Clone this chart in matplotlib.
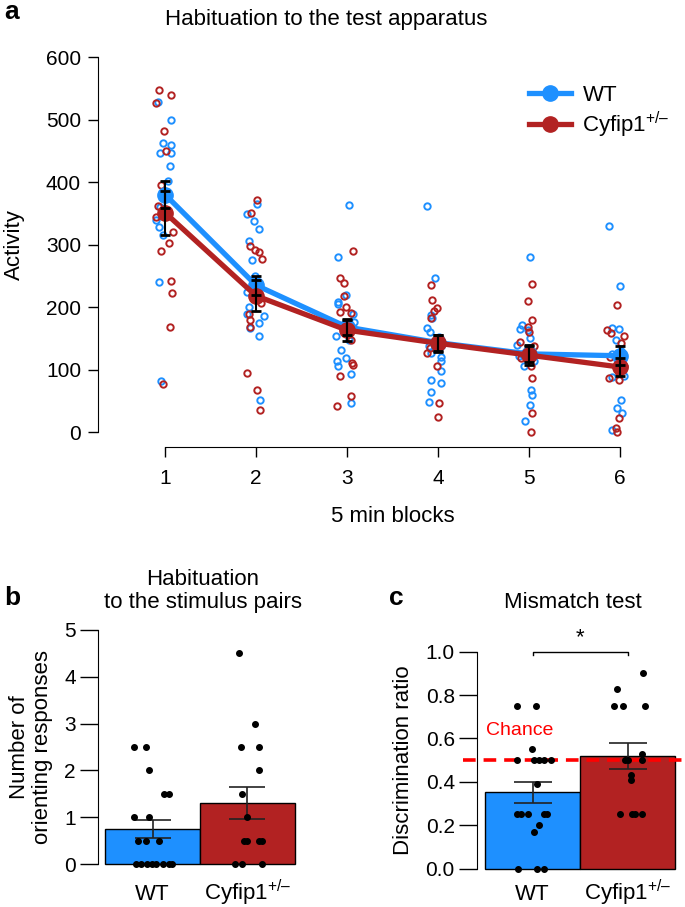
import matplotlib
matplotlib.use("Agg")
import matplotlib.pyplot as plt
import matplotlib.transforms as mtransforms
from matplotlib.lines import Line2D
import numpy as np

plt.rcParams['font.family'] = ['Liberation Sans', 'DejaVu Sans']
plt.rcParams['mathtext.fontset'] = 'custom'
plt.rcParams['mathtext.rm'] = 'Liberation Sans'
plt.rcParams['mathtext.it'] = 'Liberation Sans:italic'
plt.rcParams['mathtext.bf'] = 'Liberation Sans:bold'

BLUE = '#1E90FF'
RED = '#B22222'
W, H = 685, 907

""" Panel a: activity in 5 min blocks """
blocks = [1, 2, 3, 4, 5, 6]
wt_mean = [380, 235, 168, 143, 125, 122]
wt_se = [21, 15, 13, 13, 13, 15]
het_mean = [351, 218, 163, 142, 123, 104]
het_se = [35, 25, 17, 14, 16, 14]

wt_points = [
  [528, 499, 463, 460, 447, 446, 425, 402, 385, 360, 339, 328, 315, 240, 82],
  [365, 349, 338, 325, 305, 275, 250, 243, 224, 200, 189, 186, 174, 167, 154, 52],
  [364, 280, 219, 208, 205, 189, 176, 154, 147, 131, 118, 114, 105, 93, 47],
  [361, 247, 188, 182, 167, 160, 152, 137, 127, 120, 114, 98, 83, 79, 64, 48],
  [280, 171, 165, 163, 150, 139, 135, 125, 122, 121, 113, 105, 68, 59, 43, 18],
  [330, 234, 167, 165, 148, 130, 125, 120, 115, 90, 88, 52, 39, 30, 3],
]
het_points = [
  [547, 539, 527, 482, 450, 395, 362, 344, 320, 303, 290, 242, 223, 168, 77],
  [372, 351, 297, 292, 288, 277, 206, 189, 179, 168, 95, 67, 35],
  [289, 246, 238, 217, 200, 192, 190, 147, 110, 107, 89, 57, 42],
  [236, 211, 198, 193, 182, 150, 141, 135, 127, 105, 46, 24],
  [237, 210, 180, 168, 160, 144, 138, 125, 119, 105, 86, 30, 0],
  [204, 163, 159, 154, 142, 120, 106, 95, 86, 84, 22, 7, 0],
]
# horizontal jitter of each point (block units)
wt_jitter = [
  [-0.08, 0.07, -0.02, 0.07, 0.07, -0.05, 0.05, 0.03, -0.01, -0.05, -0.10, -0.07, -0.02, -0.07, -0.04],
  [0.01, -0.10, -0.02, 0.03, -0.08, -0.04, -0.01, -0.02, -0.10, -0.08, -0.10, 0.09, 0.03, -0.07, 0.03, 0.05],
  [0.02, -0.10, -0.01, -0.10, -0.10, 0.07, 0.08, -0.12, 0.02, -0.07, -0.01, -0.11, -0.10, 0.04, 0.04],
  [-0.12, -0.03, -0.07, -0.06, -0.12, -0.09, 0.01, -0.10, -0.08, 0.03, 0.04, 0.04, -0.07, 0.04, -0.07, -0.10],
  [0.01, -0.07, -0.10, -0.01, 0.01, -0.13, 0.0, -0.07, -0.11, -0.01, 0.06, -0.05, 0.03, 0.04, 0.01, -0.04],
  [-0.12, 0.0, -0.09, -0.01, -0.04, 0.01, -0.09, 0.02, -0.01, 0.05, -0.09, 0.01, -0.03, 0.03, -0.09],
]
het_jitter = [
  [-0.07, 0.07, -0.10, -0.01, 0.01, -0.04, -0.08, -0.10, 0.09, 0.04, -0.04, 0.07, 0.08, 0.06, -0.02],
  [0.01, -0.05, -0.07, -0.01, 0.03, 0.07, 0.06, -0.08, -0.07, -0.07, -0.10, 0.01, 0.04],
  [0.07, -0.08, -0.03, -0.03, -0.01, -0.08, 0.04, 0.04, 0.06, 0.07, -0.08, 0.04, -0.11],
  [-0.07, -0.06, -0.01, -0.04, -0.08, 0.02, -0.03, -0.09, -0.12, -0.01, 0.01, 0.0],
  [0.04, -0.01, 0.04, -0.01, 0.0, -0.10, 0.06, -0.05, -0.09, 0.03, 0.04, 0.04, 0.02],
  [-0.03, -0.14, -0.10, 0.05, 0.01, -0.11, 0.05, -0.01, -0.12, -0.01, -0.01, -0.04, -0.03],
]

""" Panel b: orienting responses """
groups = ['WT', 'Cyfip1$^{+/\u2013}$']
orient_mean = [0.75, 1.30]
orient_se = [0.19, 0.34]
orient_wt = [2.5, 2.5, 2.0, 1.5, 1.5, 1.0, 1.0, 0.5, 0.5, 0.5, 0, 0, 0, 0, 0, 0, 0, 0]
orient_wt_jit = [-0.19, -0.07, -0.04, 0.12, 0.17, -0.19, -0.04, -0.15, -0.07, 0.07,
                 -0.17, -0.12, -0.06, -0.01, 0.04, 0.11, 0.17, 0.20]
orient_het = [4.5, 3.0, 2.5, 2.5, 2.0, 1.5, 1.0, 0.5, 0.5, 0.5, 0.5, 0, 0, 0]
orient_het_jit = [-0.09, 0.08, -0.07, 0.12, 0.12, -0.06, 0.0, -0.04, 0.0, 0.12, 0.15, -0.13, -0.06, 0.15]

""" Panel c: mismatch test """
discr_mean = [0.353, 0.519]
discr_se = [0.048, 0.059]
discr_wt = [0.75, 0.75, 0.55, 0.5, 0.5, 0.5, 0.5, 0.5, 0.39, 0.25, 0.25, 0.25, 0.25, 0.25,
            0.2, 0.17, 0, 0, 0]
discr_wt_jit = [-0.16, 0.04, -0.01, -0.16, 0.02, 0.07, 0.12, 0.19, 0.05, -0.16, -0.12, -0.05,
                0.12, 0.15, 0.07, 0.02, -0.15, 0.05, 0.12]
discr_het = [0.9, 0.83, 0.75, 0.75, 0.75, 0.53, 0.5, 0.5, 0.5, 0.43, 0.41, 0.25, 0.25, 0.25, 0.25]
discr_het_jit = [0.16, -0.11, -0.14, -0.05, 0.18, 0.15, -0.03, 0.01, 0.15, 0.04, 0.04,
                 -0.08, 0.05, 0.08, 0.15]
chance = 0.5


def rect(l, t, r, b):
  """ pixel box -> figure fraction """
  return [l / W, 1 - b / H, (r - l) / W, (b - t) / H]
#


def group_labels(ax):
  """ category names under the bars, on a common baseline """
  trans = mtransforms.blended_transform_factory(ax.transData, fig.transFigure)
  for x, name in zip([0.5, 1.5], groups):
    ax.text(x, 1 - 900 / H, name, transform=trans, fontsize=16, ha='center', va='baseline')
  #
#


fig = plt.figure(figsize=(W / 100, H / 100), dpi=100)

# ---------------- panel a ----------------
ax = fig.add_axes(rect(97.7, 42, 687, 447))
for i, b in enumerate(blocks):
  ax.plot(b + np.array(wt_jitter[i]), wt_points[i], 'o', ms=4.6, mfc='none', mec=BLUE, mew=1.4, zorder=2)
  ax.plot(b + np.array(het_jitter[i]), het_points[i], 'o', ms=4.6, mfc='none', mec=RED, mew=1.4, zorder=2)
#
ax.plot(blocks, wt_mean, '-o', color=BLUE, lw=3.8, ms=11, zorder=3)
ax.plot(blocks, het_mean, '-o', color=RED, lw=3.8, ms=11, zorder=4)
ax.errorbar(blocks, wt_mean, yerr=wt_se, fmt='none', ecolor='black', elinewidth=1.5, capsize=3.5, capthick=2, zorder=5)
ax.errorbar(blocks, het_mean, yerr=het_se, fmt='none', ecolor='black', elinewidth=1.5, capsize=3.5, capthick=2, zorder=5)

ax.set_xlim(0.26, 6.74)
ax.set_ylim(-24, 624)
ax.set_xticks(blocks)
ax.set_yticks([0, 100, 200, 300, 400, 500, 600])
for s in ['top', 'right']:
  ax.spines[s].set_visible(False)
ax.spines['left'].set_bounds(0, 600)
ax.spines['bottom'].set_bounds(1, 6)
ax.tick_params(labelsize=15, length=7, width=1)
ax.tick_params(axis='x', pad=9)
ax.tick_params(axis='y', pad=5)
ax.set_xlabel('5 min blocks', fontsize=16, labelpad=13)
ax.set_ylabel('Activity', fontsize=16, labelpad=15)
fig.text(326 / W, 1 - 20 / H, 'Habituation to the test apparatus', fontsize=16, ha='center', va='center')

handles = [Line2D([], [], color=BLUE, lw=3.8, marker='o', ms=11),
           Line2D([], [], color=RED, lw=3.8, marker='o', ms=11)]
fig.legend(handles, groups, loc='upper left', bbox_to_anchor=(518 / W, 1 - 74 / H), frameon=False,
           fontsize=16, handlelength=1.9, handletextpad=0.5, labelspacing=0.15, borderpad=0)

# ---------------- panel b ----------------
ax = fig.add_axes(rect(98, 620.6, 302, 873.4))
ax.bar([0.5, 1.5], orient_mean, width=1, color=[BLUE, RED], edgecolor='black', lw=1, zorder=1)
ax.errorbar([0.5, 1.5], orient_mean, yerr=orient_se, fmt='none', ecolor='#222222', elinewidth=1.2,
            capsize=13, capthick=1.2, zorder=3)
ax.plot(0.5 + np.array(orient_wt_jit), orient_wt, 'o', color='black', ms=4, zorder=4)
ax.plot(1.5 + np.array(orient_het_jit), orient_het, 'o', color='black', ms=4, zorder=4)
ax.set_xlim(-0.074, 2.074)
ax.set_ylim(-0.2, 5.2)
ax.set_yticks([0, 1, 2, 3, 4, 5])
ax.set_xticks([])
group_labels(ax)
for s in ['top', 'right', 'bottom']:
  ax.spines[s].set_visible(False)
ax.spines['left'].set_bounds(0, 5)
ax.tick_params(axis='y', labelsize=15, length=13, width=1, pad=3)
ax.set_ylabel('Number of\norienting responses', fontsize=16, labelpad=8, linespacing=1.1)
fig.text(203 / W, 1 - 591 / H, 'Habituation\nto the stimulus pairs', fontsize=16, ha='center', va='center',
         linespacing=1.15)

# ---------------- panel c ----------------
ax = fig.add_axes(rect(463, 643, 685, 877.4))
ax.bar([0.5, 1.5], discr_mean, width=1, color=[BLUE, RED], edgecolor='black', lw=1, zorder=1)
ax.errorbar([0.5, 1.5], discr_mean, yerr=discr_se, fmt='none', ecolor='#222222', elinewidth=1.2,
            capsize=14, capthick=1.2, zorder=3)
ax.axhline(chance, color='#FF0000', lw=2.6, ls=(0, (3.5, 2.2)), zorder=2)
ax.plot(0.5 + np.array(discr_wt_jit), discr_wt, 'o', color='black', ms=4, zorder=4)
ax.plot(1.5 + np.array(discr_het_jit), discr_het, 'o', color='black', ms=4, zorder=4)
ax.text(0.37, 0.635, 'Chance', color='#FF0000', fontsize=14, ha='center', va='center')
# significance bracket
ax.plot([0.5, 0.5, 1.5, 1.5], [0.985, 1.0, 1.0, 0.985], color='black', lw=1, clip_on=False)
ax.text(1.0, 1.015, '*', fontsize=16, ha='center', va='bottom', clip_on=False)
ax.set_xlim(-0.232, 2.105)
ax.set_ylim(-0.04, 1.04)
ax.set_yticks([0, 0.2, 0.4, 0.6, 0.8, 1.0])
ax.set_yticklabels(['0.0', '0.2', '0.4', '0.6', '0.8', '1.0'])
ax.set_xticks([])
group_labels(ax)
for s in ['top', 'right', 'bottom']:
  ax.spines[s].set_visible(False)
ax.spines['left'].set_position(('data', -0.084))
ax.spines['left'].set_bounds(0, 1)
ax.tick_params(axis='y', labelsize=15, length=13, width=1, pad=3)
ax.set_ylabel('Discrimination ratio', fontsize=16, labelpad=8)
fig.text(573 / W, 1 - 603 / H, 'Mismatch test', fontsize=16, ha='center', va='center')

# panel letters
fig.text(12 / W, 1 - 12 / H, 'a', fontsize=19, fontweight='bold', ha='center', va='center')
fig.text(12 / W, 1 - 598 / H, 'b', fontsize=19, fontweight='bold', ha='center', va='center')
fig.text(396 / W, 1 - 598 / H, 'c', fontsize=19, fontweight='bold', ha='center', va='center')

fig.savefig('out.png', dpi=100)
